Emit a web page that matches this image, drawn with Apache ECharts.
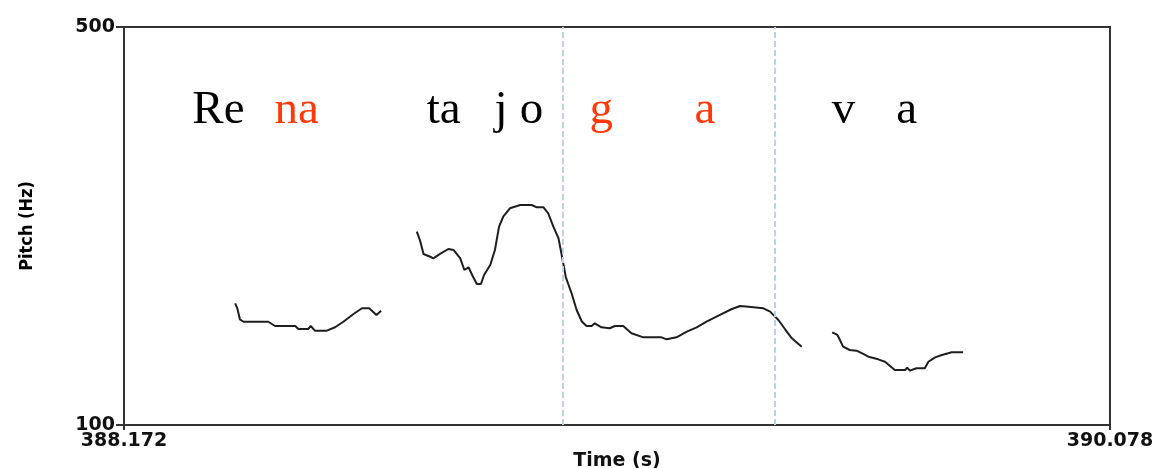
<!DOCTYPE html>
<html>
<head>
<meta charset="utf-8">
<script src="https://cdn.jsdelivr.net/npm/echarts@6/dist/echarts.min.js"></script>
<style>
html,body{margin:0;padding:0;background:#fff;}
#chart{width:1159px;height:468px;}
</style>
</head>
<body>
<div id="chart"></div>
<script>
// ---- data ----
const timeMin = 388.172;
const timeMax = 390.078;
const pitchMin = 100;
const pitchMax = 500;
const xTickValues = [388.172, 390.078];
const yTickValues = [100, 500];

const seg1Time = [388.387,388.391,388.396,388.403,388.451,388.464,388.503,388.509,388.528,388.533,388.541,388.564,388.580,388.596,388.615,388.632,388.646,388.660,388.669];
const seg1Hz   = [222.3,217.3,206.2,203.8,203.8,199.5,199.5,196.5,196.5,199.5,194.8,194.8,198.2,203.8,211.3,217.3,217.3,210.6,214.9];

const seg2Time = [388.738,388.744,388.751,388.764,388.770,388.783,388.799,388.809,388.822,388.830,388.838,388.846,388.854,388.862,388.868,388.880,388.889,388.897,388.905,388.918,388.938,388.960,388.970,388.983,388.992,389.002,389.012,389.017,389.021,389.026,389.037,389.047,389.057,389.066,389.076,389.082,389.095,389.111,389.121,389.137,389.153,389.176,389.211,389.221,389.240,389.260,389.279,389.298,389.324,389.347,389.363,389.379,389.408,389.421,389.437,389.450,389.463,389.482];
const seg2Hz   = [294.3,285.9,271.9,269.1,267.5,271.9,276.9,275.9,267.5,255.8,258.5,249.7,241.7,241.7,250.8,260.8,275.9,299.3,309.3,317.8,321.1,321.1,318.8,318.8,312.8,299.3,287.6,273.9,262.8,248.7,232.7,215.6,204.0,199.5,199.5,202.2,198.2,197.2,199.5,199.5,192.2,188.1,188.1,186.1,188.1,193.8,198.2,203.8,210.6,216.6,219.6,218.9,217.3,213.9,205.5,196.2,187.1,178.7];

const seg3Time = [389.541,389.551,389.556,389.562,389.575,389.588,389.601,389.611,389.630,389.643,389.662,389.682,389.686,389.691,389.704,389.720,389.727,389.740,389.753,389.765,389.772,389.794];
const seg3Hz   = [193.2,190.5,185.4,178.7,175.4,174.7,171.4,168.6,166.0,163.6,155.3,155.3,157.6,154.6,157.0,157.0,163.6,168.0,170.4,172.1,173.1,173.1];

const boundaryTimes = [389.017, 389.432];

const syllableText = ['Re','na','ta','j','o','g','a','v','a'];
const syllableTime = [388.305,388.464,388.758,388.889,388.938,389.073,389.276,389.541,389.666];
const syllableHz   = [415,415,415,415,415,415,415,415,415];
const syllableHighlighted = [false,true,false,false,false,true,true,false,false];

// ---- chart ----
const pairs = (t, v) => t.map((x, i) => [x, v[i]]);
const contourStyle = { color: '#1e1e1e', width: 2 };

const labelData = syllableText.map((s, i) => ({
  value: [syllableTime[i], syllableHz[i]],
  label: { formatter: s, color: syllableHighlighted[i] ? '#ff3a0a' : '#000' }
}));

const axisFont = { fontFamily: 'DejaVu Sans', fontWeight: 'bold', fontSize: 19, color: '#111' };

const chart = echarts.init(document.getElementById('chart'), null, { renderer: 'canvas' });
chart.setOption({
  animation: false,
  backgroundColor: '#fff',
  grid: { left: 124, right: 49, top: 27, bottom: 43, containLabel: false, outerBoundsMode: 'none',
    show: true, borderColor: '#333', borderWidth: 2, backgroundColor: 'transparent' },
  xAxis: {
    type: 'value', min: timeMin, max: timeMax,
    name: 'Time (s)', nameLocation: 'middle', nameGap: 27, nameMoveOverlap: false,
    nameTextStyle: { fontFamily: 'DejaVu Sans', fontWeight: 'bold', fontSize: 19, color: '#111' },
    axisLine: { show: true, onZero: false, lineStyle: { color: '#333', width: 2 } },
    axisTick: { show: true, customValues: xTickValues, length: 5, lineStyle: { color: '#333', width: 2 } },
    axisLabel: Object.assign({ customValues: xTickValues, margin: 7, formatter: v => v.toFixed(3) }, axisFont),
    splitLine: { show: false }
  },
  yAxis: {
    type: 'value', min: pitchMin, max: pitchMax,
    name: 'Pitch (Hz)', nameLocation: 'middle', nameGap: 88, nameRotate: 90, nameMoveOverlap: false,
    nameTextStyle: { fontFamily: 'DejaVu Sans Condensed', fontWeight: 'bold', fontSize: 18, color: '#000' },
    axisLine: { show: true, onZero: false, lineStyle: { color: '#333', width: 2 } },
    axisTick: { show: true, customValues: yTickValues, length: 8, lineStyle: { color: '#333', width: 2 } },
    axisLabel: Object.assign({ customValues: yTickValues, margin: 9 }, axisFont),
    splitLine: { show: false }
  },
  series: [
    { type: 'line', data: pairs(seg1Time, seg1Hz), symbol: 'none', lineStyle: contourStyle, z: 3 },
    { type: 'line', data: pairs(seg2Time, seg2Hz), symbol: 'none', lineStyle: contourStyle, z: 3,
      markLine: {
        silent: true, symbol: ['none','none'], label: { show: false },
        lineStyle: { color: '#bfd0ea', width: 2, type: [6, 3] },
        data: boundaryTimes.map(t => ({ xAxis: t }))
      }
    },
    { type: 'line', data: pairs(seg3Time, seg3Hz), symbol: 'none', lineStyle: contourStyle, z: 3 },
    { type: 'scatter', data: labelData, symbolSize: 1, itemStyle: { color: 'transparent', opacity: 1 }, z: 4,
      emphasis: { disabled: true },
      label: { show: true, position: [0, 0], align: 'left', verticalAlign: 'middle',
        fontFamily: 'Liberation Serif', fontSize: 47 } }
  ]
});
</script>
</body>
</html>
